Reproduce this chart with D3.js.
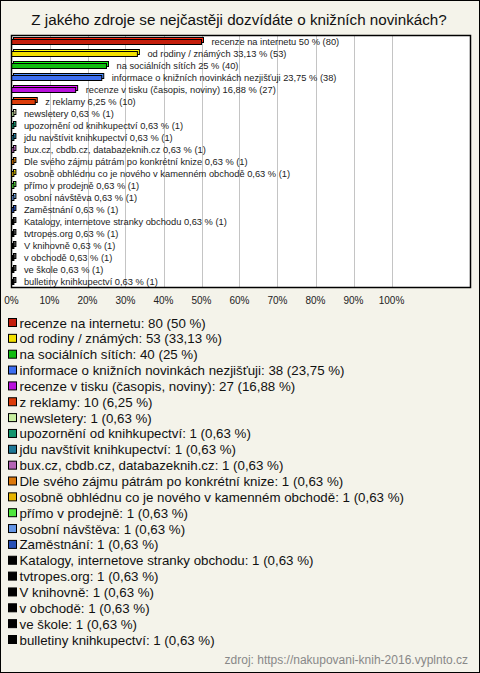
<!DOCTYPE html>
<html><head><meta charset="utf-8">
<script src="https://cdn.jsdelivr.net/npm/d3@7"></script>
<style>body{margin:0;background:#fff}svg{display:block}</style>
</head><body>
<script>
const title = "Z jakého zdroje se nejčastěji dozvídáte o knižních novinkách?";
const categories = ["recenze na internetu","od rodiny / známých","na sociálních sítích","informace o knižních novinkách nezjišťuji","recenze v tisku (časopis, noviny)","z reklamy","newsletery","upozornění od knihkupectví","jdu navštívit knihkupectví","bux.cz, cbdb.cz, databazeknih.cz","Dle svého zájmu pátrám po konkrétní knize","osobně obhlédnu co je nového v kamenném obchodě","přímo v prodejně","osobní návštěva","Zaměstnání","Katalogy, internetove stranky obchodu","tvtropes.org","V knihovně","v obchodě","ve škole","bulletiny knihkupectví"];
const counts = [80,53,40,38,27,10,1,1,1,1,1,1,1,1,1,1,1,1,1,1,1];
const percents = [50,33.13,25,23.75,16.88,6.25,0.63,0.63,0.63,0.63,0.63,0.63,0.63,0.63,0.63,0.63,0.63,0.63,0.63,0.63,0.63];
const colors = ["#c41e0c","#f2e000","#10bc10","#3c6ef0","#b810dc","#dc3c0a","#c8f0a0","#14966e","#1e7896","#b464b4","#dc780a","#e6b400","#50e63c","#6496e6","#2850b4","#000000","#000000","#000000","#000000","#000000","#000000"];
const xTicks = [0,10,20,30,40,50,60,70,80,90,100];
const source = "zdroj: https://nakupovani-knih-2016.vyplnto.cz";

const W = 480, H = 673;
const fmt = v => String(v).replace(".", ",");
const svg = d3.select("body").append("svg").attr("width", W).attr("height", H)
  .style("font-family", "Liberation Sans, Arial, sans-serif");
svg.append("rect").attr("x",0.5).attr("y",0.5).attr("width",W-1).attr("height",H-1)
  .attr("fill","#f4f3ea").attr("stroke","#000");

svg.append("text").attr("x",239).attr("y",25).attr("text-anchor","middle")
  .attr("font-size",15.2).attr("fill","#111").text(title);

const plot = {l:11, r:470, t:35, b:287};
svg.append("rect").attr("x",plot.l+0.5).attr("y",plot.t+0.5)
  .attr("width",plot.r-plot.l).attr("height",plot.b-plot.t).attr("fill","#fff");

const x = d3.scaleLinear().domain([0,100]).range([plot.l+0.5, 391.5]);
const y = d3.scaleBand().domain(categories).range([plot.t, plot.t + 12*categories.length]);

// gridlines
svg.append("g").selectAll("line").data(xTicks.slice(1)).join("line")
  .attr("x1", d => Math.round(x(d))+0.5).attr("x2", d => Math.round(x(d))+0.5)
  .attr("y1", plot.t+1).attr("y2", plot.b).attr("stroke","#c4c4c4");

// bars (pseudo 3D)
const bars = svg.append("g");
categories.forEach((c,i) => {
  const x0 = x(0), x1 = x(percents[i]);
  const cy = y(c) + y.bandwidth()/2;
  const col = d3.color(colors[i]);
  const light = colors[i] === "#000000" ? "#555" : col.brighter(0.7).formatHex();
  const d = 2;
  bars.append("rect").attr("x", x0 + d).attr("y", cy - 3.5)
    .attr("width", Math.max(x1 - x0, 0.5)).attr("height", 5)
    .attr("fill", light).attr("stroke","#000").attr("stroke-width",1);
  bars.append("rect").attr("x", x0).attr("y", cy - 1.5)
    .attr("width", Math.max(x1 - x0, 0.5)).attr("height", 5)
    .attr("fill", colors[i]).attr("stroke","#000").attr("stroke-width",1);
  svg.append("text").attr("x", x1 + 10).attr("y", cy + 3.5)
    .attr("font-size", 9.3).attr("fill","#222")
    .text(`${c} ${fmt(percents[i])} % (${counts[i]})`);
});

svg.append("rect").attr("x",plot.l+0.5).attr("y",plot.t+0.5)
  .attr("width",plot.r-plot.l).attr("height",plot.b-plot.t).attr("fill","none")
  .attr("stroke","#000").attr("stroke-width",1.5);

svg.append("g").selectAll("text").data(xTicks).join("text")
  .attr("x", d => x(d)).attr("y", 304).attr("text-anchor","middle")
  .attr("font-size",10).attr("fill","#222").text(d => d + "%");

const lg = svg.append("g");
categories.forEach((c,i) => {
  const cy = 323 + i*15.85;
  lg.append("rect").attr("x",8.5).attr("y",cy-4.5).attr("width",8).attr("height",8)
    .attr("fill",colors[i]).attr("stroke","#000");
  lg.append("text").attr("x",19.5).attr("y",cy+4.5).attr("font-size",13.3).attr("fill","#111")
    .text(`${c}: ${counts[i]} (${fmt(percents[i])} %)`);
});

svg.append("text").attr("x",468).attr("y",664).attr("text-anchor","end")
  .attr("font-size",12).attr("fill","#888").text(source);
</script>
</body></html>
